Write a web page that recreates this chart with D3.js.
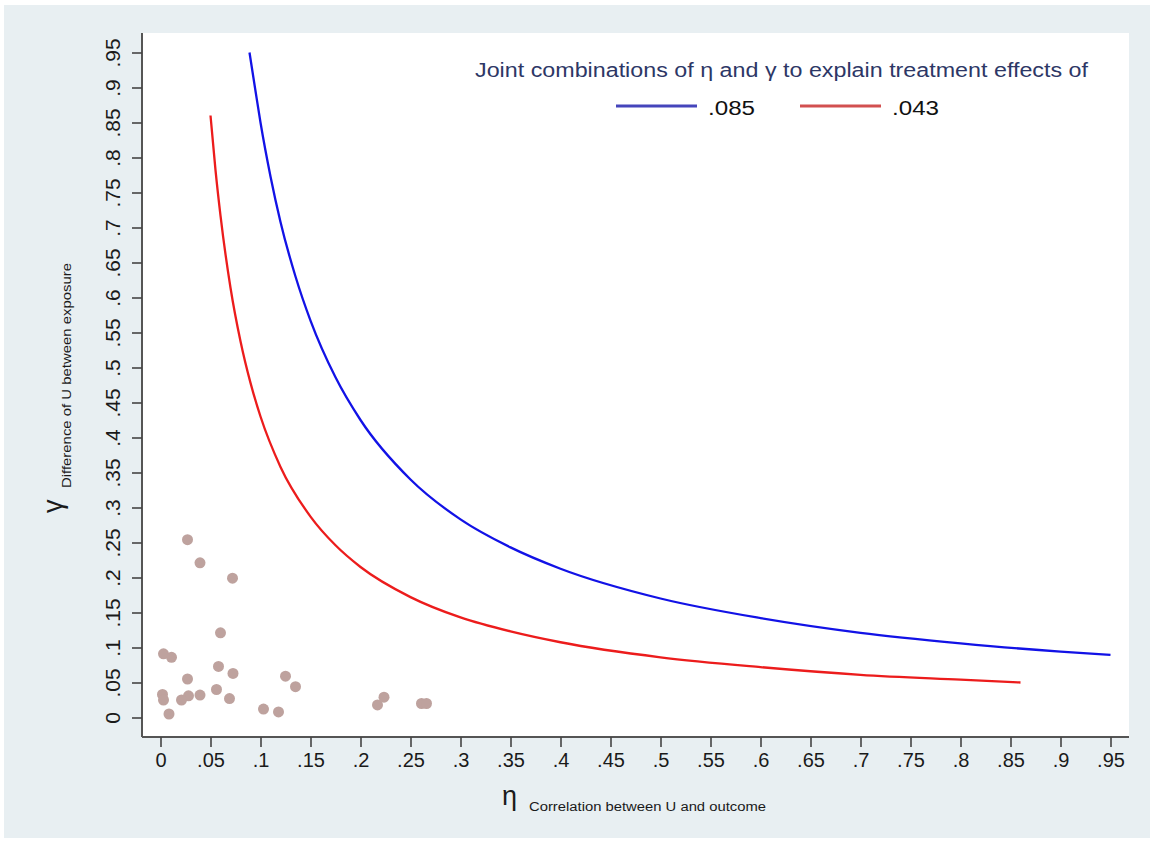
<!DOCTYPE html>
<html>
<head>
<meta charset="utf-8">
<script src="https://cdn.jsdelivr.net/npm/d3@7"></script>
<style>
  html, body { margin: 0; padding: 0; background: #ffffff; }
  svg { display: block; font-family: "Liberation Sans", Arial, Helvetica, sans-serif; }
</style>
</head>
<body>
<svg id="chart" width="1153" height="843"></svg>
<script>
// Sensitivity curves: combinations of eta (x) and gamma (y)
const blueEta   = [0.089, 0.095, 0.10, 0.11, 0.12, 0.135, 0.15, 0.175, 0.20, 0.25, 0.30, 0.35, 0.40, 0.50, 0.60, 0.70, 0.80, 0.90, 0.95];
const blueGamma = [0.950, 0.895, 0.850, 0.773, 0.708, 0.630, 0.567, 0.486, 0.425, 0.340, 0.283, 0.243, 0.2125, 0.170, 0.142, 0.121, 0.106, 0.094, 0.0895];

const redEta    = [0.050, 0.055, 0.060, 0.070, 0.080, 0.090, 0.10, 0.12, 0.15, 0.175, 0.20, 0.25, 0.30, 0.35, 0.40, 0.50, 0.60, 0.70, 0.80, 0.86];
const redGamma  = [0.860, 0.782, 0.717, 0.614, 0.5375, 0.478, 0.430, 0.358, 0.287, 0.246, 0.215, 0.172, 0.143, 0.123, 0.1075, 0.086, 0.072, 0.061, 0.054, 0.050];

// Observed covariates
const pointEta   = [0.027, 0.0395, 0.072, 0.060, 0.003, 0.011, 0.058, 0.0725, 0.027, 0.125, 0.135, 0.056, 0.002, 0.003, 0.0395, 0.028, 0.021, 0.069, 0.0085, 0.103, 0.118, 0.217, 0.2235, 0.261, 0.266];
const pointGamma = [0.254, 0.221, 0.199, 0.121, 0.091, 0.086, 0.073, 0.063, 0.055, 0.059, 0.044, 0.040, 0.033, 0.025, 0.032, 0.031, 0.025, 0.027, 0.005, 0.012, 0.008, 0.018, 0.029, 0.020, 0.020];

const xTicks = [0, 0.05, 0.1, 0.15, 0.2, 0.25, 0.3, 0.35, 0.4, 0.45, 0.5, 0.55, 0.6, 0.65, 0.7, 0.75, 0.8, 0.85, 0.9, 0.95];
const yTicks = [0, 0.05, 0.1, 0.15, 0.2, 0.25, 0.3, 0.35, 0.4, 0.45, 0.5, 0.55, 0.6, 0.65, 0.7, 0.75, 0.8, 0.85, 0.9, 0.95];

const legendTitle = "Joint combinations of η and γ to explain treatment effects of";
const seriesLabels = [".085", ".043"];

const fmt = v => v === 0 ? "0" : d3.format(".2~f")(v).replace(/^0/, "");

const svg = d3.select("#chart");

// figure background and plot region
svg.append("rect").attr("x", 4).attr("y", 5).attr("width", 1146).attr("height", 833).attr("fill", "#e8eff2");
const plot = { left: 142, top: 33, right: 1129, bottom: 737 };
svg.append("rect").attr("x", plot.left).attr("y", plot.top)
  .attr("width", plot.right - plot.left).attr("height", plot.bottom - plot.top).attr("fill", "#ffffff");

const x = d3.scaleLinear().domain([0, 0.95]).range([160.5, 1110.5]);
const y = d3.scaleLinear().domain([0, 0.95]).range([717.5, 52.5]);

// x axis
const xAxis = svg.append("g").attr("transform", `translate(0,${plot.bottom})`)
  .call(d3.axisBottom(x).tickValues(xTicks).tickFormat(fmt).tickSize(10).tickPadding(6));
xAxis.select(".domain").attr("d", `M${plot.left},0H${plot.right}`).attr("stroke", "#555").attr("stroke-width", 2);
xAxis.selectAll(".tick line").attr("stroke", "#444").attr("stroke-width", 1.6);
xAxis.selectAll(".tick text").attr("font-size", 20).attr("fill", "#1a1a1a");

// y axis with rotated labels
const yAxis = svg.append("g").attr("transform", `translate(${plot.left},0)`)
  .call(d3.axisLeft(y).tickValues(yTicks).tickFormat(fmt).tickSize(10).tickPadding(6));
yAxis.select(".domain").attr("d", `M0,${plot.top}V${plot.bottom}`).attr("stroke", "#555").attr("stroke-width", 2);
yAxis.selectAll(".tick line").attr("stroke", "#444").attr("stroke-width", 1.6);
yAxis.selectAll(".tick text")
  .attr("font-size", 21).attr("fill", "#1a1a1a")
  .attr("x", null).attr("dy", null)
  .attr("text-anchor", "middle")
  .attr("transform", "translate(-22,0) rotate(-90)");

// axis titles: Greek symbol with a small descriptive subscript
svg.append("text").attr("transform", "translate(62,513) rotate(-90)")
  .attr("font-size", 27).attr("fill", "#1a1a1a").text("γ");
svg.append("text").attr("transform", "translate(71,488) rotate(-90)")
  .attr("font-size", 12).attr("fill", "#1a1a1a")
  .attr("textLength", 225).attr("lengthAdjust", "spacingAndGlyphs")
  .text("Difference of U between exposure");

svg.append("text").attr("x", 502).attr("y", 805)
  .attr("font-size", 27).attr("fill", "#1a1a1a").text("η");
svg.append("text").attr("x", 529).attr("y", 811)
  .attr("font-size", 12).attr("fill", "#1a1a1a")
  .attr("textLength", 237).attr("lengthAdjust", "spacingAndGlyphs")
  .text("Correlation between U and outcome");

// curves
const line = d3.line().x(d => x(d[0])).y(d => y(d[1])).curve(d3.curveMonotoneX);
svg.append("path").datum(blueEta.map((e, i) => [e, blueGamma[i]]))
  .attr("d", line).attr("fill", "none").attr("stroke", "#1212e6").attr("stroke-width", 2.3);
svg.append("path").datum(redEta.map((e, i) => [e, redGamma[i]]))
  .attr("d", line).attr("fill", "none").attr("stroke", "#ec1c1c").attr("stroke-width", 2.3);

// scatter
svg.append("g").selectAll("circle").data(pointEta.map((e, i) => [e, pointGamma[i]]))
  .join("circle").attr("cx", d => x(d[0])).attr("cy", d => y(d[1])).attr("r", 5.5)
  .attr("fill", "#bea29e");

// legend
svg.append("text").attr("x", 475).attr("y", 77)
  .attr("font-size", 20).attr("fill", "#2d3766")
  .attr("textLength", 613).attr("lengthAdjust", "spacingAndGlyphs")
  .text(legendTitle);
const legendColors = ["#4545bb", "#d25050"];
const legendX = [616, 800];
seriesLabels.forEach((lab, i) => {
  svg.append("line").attr("x1", legendX[i]).attr("x2", legendX[i] + 81).attr("y1", 106).attr("y2", 106)
    .attr("stroke", legendColors[i]).attr("stroke-width", 3);
  svg.append("text").attr("x", legendX[i] + 92).attr("y", 115).attr("font-size", 20).attr("fill", "#111")
    .attr("textLength", 47).attr("lengthAdjust", "spacingAndGlyphs").text(lab);
});
</script>
</body>
</html>
